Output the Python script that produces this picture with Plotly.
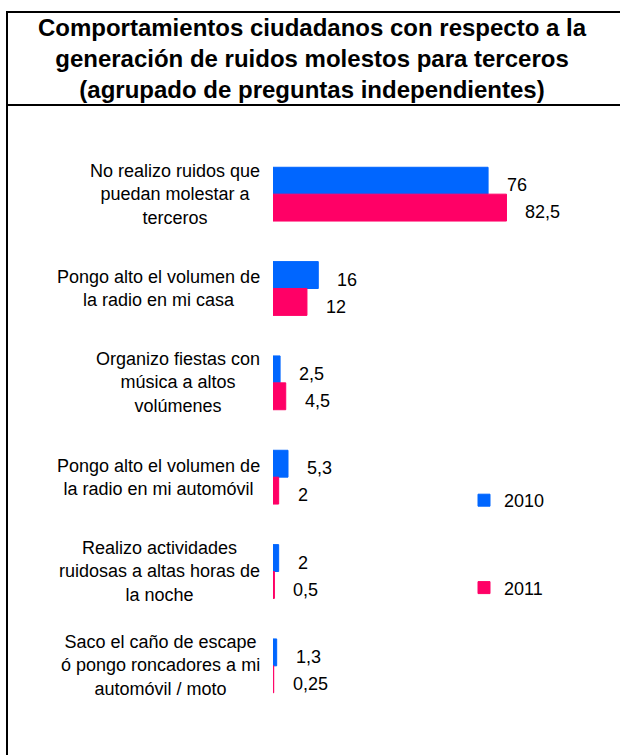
import plotly.graph_objects as go

# ---------------- data ----------------
categories = [
    "No realizo ruidos que<br>puedan molestar a<br>terceros",
    "Pongo alto el volumen de<br>la radio en mi casa",
    "Organizo fiestas con<br>música a altos<br>volúmenes",
    "Pongo alto el volumen de<br>la radio en mi automóvil",
    "Realizo actividades<br>ruidosas a altas horas de<br>la noche",
    "Saco el caño de escape<br>ó pongo roncadores a mi<br>automóvil / moto",
]
series_names = ["2010", "2011"]
values_2010 = [76, 16, 2.5, 5.3, 2, 1.3]
values_2011 = [82.5, 12, 4.5, 2, 0.5, 0.25]

title_text = ("Comportamientos ciudadanos con respecto a la<br>"
              "generación de ruidos molestos para terceros<br>"
              "(agrupado de preguntas independientes)")

# ---------------- style ----------------
W, H = 620, 755
L, R, T, B = 273, 556, 147, 713   # plot area in pixels
FONT = "Liberation Sans, Arial, sans-serif"
BLUE = "#0066FF"
PINK = "#FF0066"


def px_x(p):
    return (p - L) / (R - L)


def px_y(p):
    return (B - p) / (B - T)


def fmt(v):
    return f"{v:g}".replace(".", ",")


fig = go.Figure()
for name, vals, col in [(series_names[0], values_2010, BLUE),
                        (series_names[1], values_2011, PINK)]:
    fig.add_trace(go.Bar(
        name=name, x=vals, y=categories, orientation="h",
        marker=dict(color=col, line=dict(width=1, color=col)),
        legendgroup=name, hoverinfo="skip",
    ))

annotations = []
# value labels
for vals, ys in [(values_2010, 9), (values_2011, -18)]:
    for c, v in zip(categories, vals):
        annotations.append(dict(
            x=v, y=c, xref="x", yref="y", text=fmt(v), showarrow=False,
            xanchor="left", yanchor="middle", xshift=17, yshift=ys,
            font=dict(family=FONT, size=18, color="#000000"),
        ))
# category labels
for c in categories:
    annotations.append(dict(
        x=0, y=c, xref="paper", yref="y", text=c, showarrow=False,
        xanchor="right", yanchor="middle", align="center", xshift=-11,
        font=dict(family=FONT, size=18, color="#000000"),
    ))

shapes = [
    # outer frame (extends beyond the picture on right and bottom)
    dict(type="rect", xref="paper", yref="paper",
         x0=px_x(7), x1=px_x(630), y0=px_y(770), y1=px_y(12),
         line=dict(color="#000000", width=2), fillcolor="rgba(0,0,0,0)"),
    # title separator
    dict(type="line", xref="paper", yref="paper",
         x0=px_x(7), x1=px_x(630), y0=px_y(105), y1=px_y(105),
         line=dict(color="#000000", width=2)),
]

fig.update_layout(
    width=W, height=H,
    margin=dict(l=L, r=W - R, t=T, b=H - B, pad=0),
    paper_bgcolor="white", plot_bgcolor="white",
    barmode="group", bargap=0.43, bargroupgap=0,
    title=dict(text=title_text, x=312 / W, xref="container", xanchor="center",
               y=1 - 36 / H, yref="container", yanchor="top",
               font=dict(family=FONT, size=24, color="#000000", weight="bold")),
    xaxis=dict(range=[0, 100], visible=False, fixedrange=True),
    yaxis=dict(autorange="reversed", showticklabels=False, showgrid=False,
               zeroline=False, showline=False, ticks="", fixedrange=True),
    showlegend=True,
    legend=dict(x=px_x(464), y=px_y(482), xanchor="left", yanchor="top",
                traceorder="grouped", tracegroupgap=61,
                font=dict(family=FONT, size=18, color="#000000"),
                bgcolor="rgba(0,0,0,0)", borderwidth=0),
    annotations=annotations,
    shapes=shapes,
)

fig.write_html("out.html", config={"displayModeBar": False},
               post_script="document.body.style.margin='0';")
